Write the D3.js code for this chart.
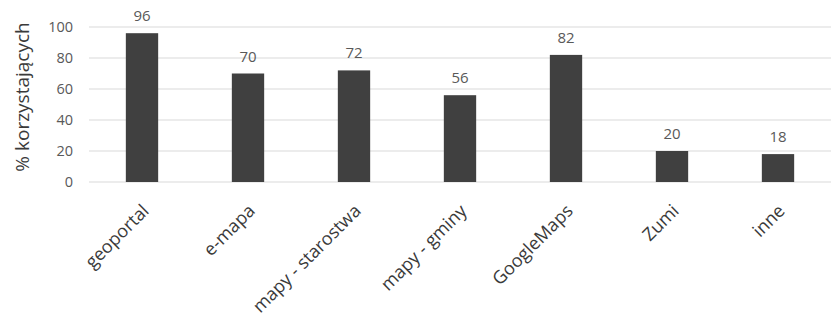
<!DOCTYPE html>
<html><head><meta charset="utf-8">
<script src="https://cdn.jsdelivr.net/npm/d3@7"></script>
<style>body{margin:0;background:#fff}svg{display:block}</style>
</head><body>
<svg id="c" width="834" height="326"></svg>
<script>
const categories = ["geoportal","e-mapa","mapy - starostwa","mapy - gminy","GoogleMaps","Zumi","inne"];
const values = [96,70,72,56,82,20,18];
const yTicks = [0,20,40,60,80,100];
const yTitle = "% korzystających";

const svg = d3.select("#c");
const m = {left:89, right:831, top:27, bottom:182};
const x = d3.scaleBand().domain(categories).range([m.left, m.right]).padding(0);
const y = d3.scaleLinear().domain([0,100]).range([m.bottom, m.top]);
const font = "'Open Sans', sans-serif";
const txt = "#595959";

svg.append("g").selectAll("line").data(yTicks).join("line")
  .attr("x1", m.left).attr("x2", m.right)
  .attr("y1", d=>y(d)).attr("y2", d=>y(d))
  .attr("stroke","#d9d9d9").attr("stroke-width",1.2);

const yAxis = d3.axisLeft(y).tickValues(yTicks).tickSize(0).tickPadding(0);
const gy = svg.append("g").attr("transform",`translate(${m.left-16},0)`).call(yAxis);
gy.select(".domain").remove();
gy.selectAll("text").attr("font-family",font).attr("font-size",14.5).attr("fill",txt);

const bw = x.bandwidth()*0.305;
svg.append("g").selectAll("rect").data(values).join("rect")
  .attr("x",(d,i)=>x(categories[i])+x.bandwidth()/2-bw/2)
  .attr("width",bw)
  .attr("y",d=>y(d)).attr("height",d=>y(0)-y(d))
  .attr("fill","#404040");

svg.append("g").selectAll("text").data(values).join("text")
  .attr("x",(d,i)=>x(categories[i])+x.bandwidth()/2)
  .attr("y",d=>y(d)-12)
  .attr("text-anchor","middle").attr("font-family",font).attr("font-size",15).attr("fill",txt)
  .text(d=>d);

const xAxis = d3.axisBottom(x).tickSize(0).tickPadding(0);
const gx = svg.append("g").attr("transform",`translate(0,${m.bottom})`).call(xAxis);
gx.select(".domain").remove();
gx.selectAll("text")
  .attr("font-family",font).attr("font-size",18).attr("fill","#3a3a3a")
  .attr("text-anchor","end").attr("dy","0")
  .attr("transform","translate(8,30) rotate(-45)");

svg.append("text")
  .attr("transform",`translate(29,97) rotate(-90)`)
  .attr("text-anchor","middle").attr("font-family",font).attr("font-size",19).attr("fill","#3a3a3a")
  .text(yTitle);
</script>
</body></html>
